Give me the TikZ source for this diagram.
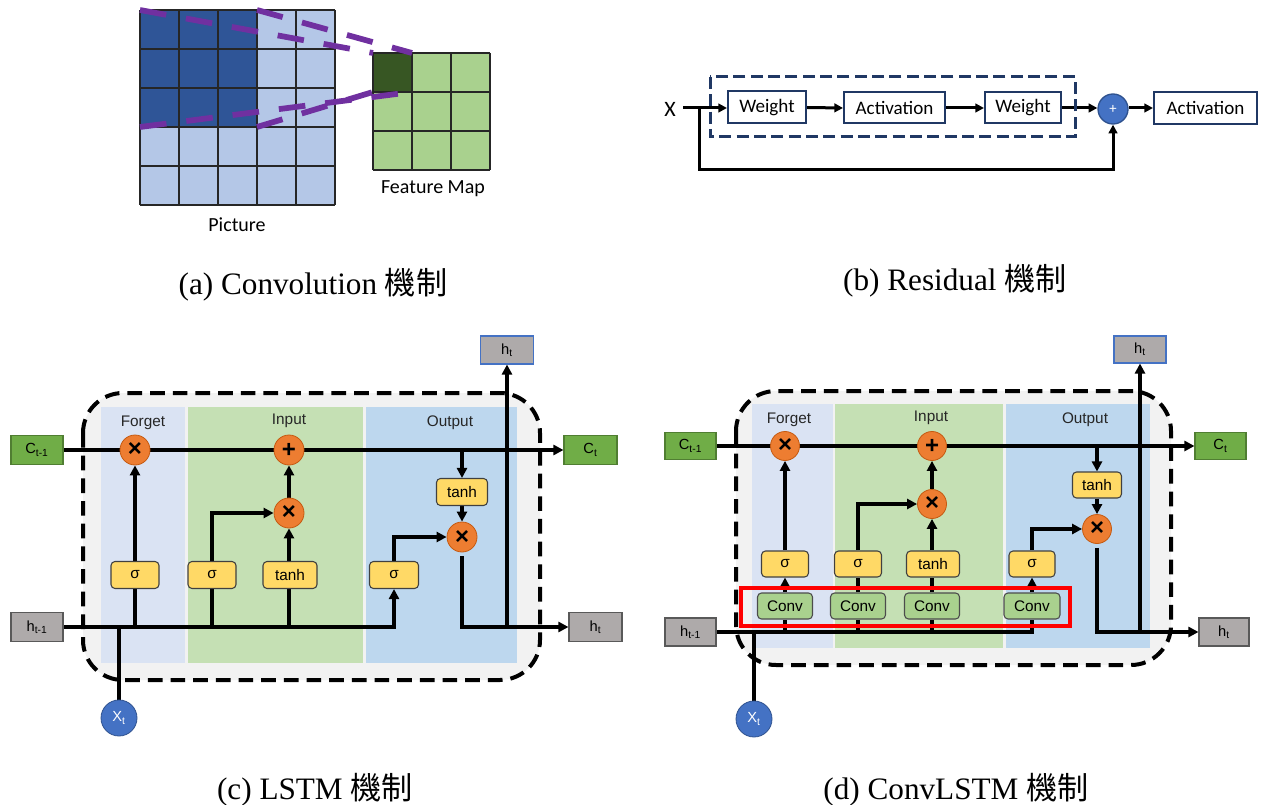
\documentclass[tikz,border=0pt]{standalone}
\usepackage{fontspec}
\setmainfont{Liberation Serif}
\newfontfamily\calfont{Carlito}
\newfontfamily\arialfont{Liberation Sans}
\newfontfamily\cjkfont{Noto Sans CJK TC}
\usetikzlibrary{arrows.meta}

\pgfdeclarelayer{back}
\pgfdeclarelayer{wires}
\pgfsetlayers{back,wires,main}

\definecolor{darkcell}{HTML}{2F5597}
\definecolor{lightcell}{HTML}{B4C7E7}
\definecolor{darkfeat}{HTML}{375623}
\definecolor{lightfeat}{HTML}{A9D18E}
\definecolor{kernelline}{HTML}{7030A0}
\definecolor{navy}{HTML}{203864}
\definecolor{plusblue}{HTML}{4472C4}
\definecolor{plusedge}{HTML}{2F528F}
\definecolor{cellbg}{HTML}{F2F2F2}
\definecolor{forgetbg}{HTML}{DAE3F3}
\definecolor{inputbg}{HTML}{C5E0B4}
\definecolor{outputbg}{HTML}{BDD7EE}
\definecolor{gatefill}{HTML}{FFD966}
\definecolor{opfill}{HTML}{ED7D31}
\definecolor{opedge}{HTML}{C55A11}
\definecolor{cgreen}{HTML}{70AD47}
\definecolor{cgreenedge}{HTML}{507E32}
\definecolor{hgray}{HTML}{AEAAAA}
\definecolor{convfill}{HTML}{A9D18E}

\tikzset{
  wh/.style 2 args={minimum width=#1*0.75pt, minimum height=#2*0.75pt},
  caption/.style={font=\fontsize{23.4}{27}\selectfont, inner sep=0},
  gridline/.style={black!85, line width=1pt},
  kernel/.style={kernelline, line width=4.3pt, dash pattern=on 20pt off 15pt},
  calib/.style={font=\calfont\fontsize{15}{18}\selectfont, inner sep=0},
  blockbox/.style={draw=navy, line width=1.5pt, fill=white, inner sep=0,
    font=\calfont\fontsize{14.3}{16}\selectfont},
  rline/.style={line width=2.25pt},
  rarrow/.style={rline, -{Triangle[length=6.5pt,width=6.5pt]}},
  lbl/.style={font=\arialfont\fontsize{11.5}{13}\selectfont, text=black!85, inner sep=0},
  gate/.style={rounded corners=3pt, draw=black!75, line width=0.8pt, fill=gatefill,
    inner sep=0, font=\arialfont\fontsize{11.5}{13}\selectfont},
  convbox/.style={gate, fill=convfill, draw=black!70},
  op/.style={circle, fill=opfill, draw=opedge, line width=0.6pt, minimum size=30*0.75pt,
    inner sep=0, font=\arialfont\bfseries\fontsize{18}{18}\selectfont},
  state/.style={draw, line width=0.8pt, inner sep=0, font=\arialfont\fontsize{11}{13}\selectfont},
  cstate/.style={state, fill=cgreen, draw=cgreenedge},
  hstate/.style={state, fill=hgray, draw=black!65},
  xin/.style={circle, fill=plusblue, draw=plusedge, line width=0.6pt, minimum size=36*0.75pt,
    inner sep=0, text=white, font=\arialfont\fontsize{11}{13}\selectfont},
  wire/.style={line width=2.7pt},
  warrow/.style={wire, -{Triangle[length=7.5pt,width=7.5pt]}},
  outer/.style={fill=cellbg, draw=black, line width=3pt, dash pattern=on 11pt off 6pt,
    rounded corners=30pt},
}

\begin{document}
\begin{tikzpicture}[x=0.75pt,y=-0.75pt]
\useasboundingbox (0,0) rectangle (1269,805);

% ---------------- (a) convolution ----------------
\fill[lightcell] (140,10) rectangle (335,205);
\fill[darkcell] (140,10) rectangle (257,127);
\foreach \k in {0,...,5} {
  \draw[gridline] ({140+39*\k},10) -- ({140+39*\k},205);
  \draw[gridline] (140,{10+39*\k}) -- (335,{10+39*\k});
}
\fill[lightfeat] (373,53) rectangle (490,170);
\fill[darkfeat] (373,53) rectangle (412,92);
\foreach \k in {0,...,3} {
  \draw[gridline] ({373+39*\k},53) -- ({373+39*\k},170);
  \draw[gridline] (373,{53+39*\k}) -- (490,{53+39*\k});
}
\coordinate (win-tl) at (140,10);
\coordinate (win-tr) at (257,10);
\coordinate (win-bl) at (140,127);
\coordinate (win-br) at (257,127);
\coordinate (out-tl) at (373,53);
\coordinate (out-tr) at (412,53);
\coordinate (out-bl) at (373,92);
\coordinate (out-br) at (412,92);
\draw[kernel] (win-tl) -- (out-tl);
\draw[kernel] (win-tr) -- (out-tr);
\draw[kernel] (win-bl) -- (out-br);
\draw[kernel] (win-br) -- (out-bl);
\node[calib] (piclabel) at (237,225) {Picture};
\node[calib] (fmlabel) at (433,189) {Feature Map};
\node[caption] (capa) at (313,285) {(a) Convolution {\cjkfont 機制}};

% ---------------- (b) residual ----------------
\node[calib, font=\calfont\fontsize{16.5}{18}\selectfont] (rx) at (670,109) {X};
\coordinate (xstart) at (683,108);
\coordinate (split) at (699,108);
\node[blockbox, wh={78}{32}] (w1) at (767,107.5) {Weight};
\node[blockbox, wh={101}{31}] (act1) at (894.5,108) {Activation};
\node[blockbox, wh={76}{31}] (w2) at (1023,108) {Weight};
\node[circle, fill=plusblue, draw=plusedge, line width=1pt, minimum size=30*0.75pt,
  inner sep=0, text=white, font=\calfont\fontsize{11}{12}\selectfont] (sum) at (1113,109) {+};
\node[blockbox, wh={103}{32}] (act2) at (1205.5,108) {Activation};
\draw[navy, line width=2.25pt, dash pattern=on 9pt off 4pt] (710,77) rectangle (1075,137);
\coordinate (loop) at (699,170);
\begin{pgfonlayer}{wires}
  \draw[rarrow] (xstart) -- (xstart -| w1.west);
  \draw[rarrow] (w1.east) -- (act1.west);
  \draw[rarrow] (act1.east) -- (w2.west);
  \draw[rarrow] (w2.east) -- (w2.east -| sum.west);
  \draw[rarrow] (act2.west -| sum.east) -- (act2.west);
  \draw[rarrow] (split) -- (loop) -| (sum.south);
\end{pgfonlayer}
\node[caption] (capb) at (955,281) {(b) Residual {\cjkfont 機制}};

% ---------------- (c) LSTM ----------------
\begin{pgfonlayer}{back}
  \draw[outer] (83,393) rectangle (540,680);
  \fill[forgetbg] (101,407) rectangle (185,663);
  \fill[inputbg] (188,407) rectangle (363,663);
  \fill[outputbg] (366,407) rectangle (517,663);
\end{pgfonlayer}
\node[lbl] (c-lf) at (143,423) {Forget};
\node[lbl] (c-li) at (289,421) {Input};
\node[lbl] (c-lo) at (450,423) {Output};

\node[cstate, wh={52}{29}] (c-cin) at (37,450) {C\textsubscript{t-1}};
\node[hstate, wh={52}{29}] (c-hin) at (37,627) {h\textsubscript{t-1}};
\node[cstate, wh={53}{29}] (c-cout) at (590.5,450) {C\textsubscript{t}};
\node[hstate, wh={53}{29}] (c-hout) at (595.5,627) {h\textsubscript{t}};
\node[hstate, draw=plusblue, wh={53}{28}] (c-htop) at (507,350) {h\textsubscript{t}};

\node[op] (c-fx) at (135,450) {×};
\node[op] (c-ip) at (289,450) {+};
\node[op] (c-ix) at (289,513) {×};
\node[op] (c-ox) at (462,537) {×};

\node[gate, wh={48}{27}] (c-sf) at (135,575) {σ};
\node[gate, wh={48}{27}] (c-si) at (212,575) {σ};
\node[gate, wh={54}{27}] (c-ti) at (290,575) {tanh};
\node[gate, wh={49}{27}] (c-so) at (394,575) {σ};
\node[gate, wh={51}{27}] (c-to) at (462,492) {tanh};

\node[xin] (c-x) at (119,718) {X\textsubscript{t}};

\coordinate (c-hj) at (c-htop.south |- c-hout.west);
\begin{pgfonlayer}{wires}
  \draw[warrow] (c-cin.east) -- (c-cout.west);
  \draw[warrow] (c-hin.east) -| (c-so.south);
  \draw[wire] (c-x.north) -- (c-x.north |- c-hin.east);
  \draw[wire] (c-sf.south) -- (c-sf.south |- c-hin.east);
  \draw[wire] (c-si.south) -- (c-si.south |- c-hin.east);
  \draw[wire] (c-ti.south -| c-ix) -- (c-ix |- c-hin.east);
  \draw[warrow] (c-sf.north) -- (c-fx.south);
  \draw[warrow] (c-si.north) |- (c-ix.west);
  \draw[warrow] (c-ti.north -| c-ix) -- (c-ix.south);
  \draw[warrow] (c-ix.north) -- (c-ip.south);
  \draw[warrow] (c-to.north |- c-cin.east) -- (c-to.north);
  \draw[warrow] (c-to.south) -- (c-ox.north);
  \draw[warrow] (c-so.north) |- (c-ox.west);
  \draw[warrow] ([yshift=-3pt]c-ox.south) |- (c-hout.west);
  \draw[warrow] (c-hj) -- (c-htop.south);
\end{pgfonlayer}
\node[caption] (capc) at (315,790) {(c) LSTM {\cjkfont 機制}};

% ---------------- (d) ConvLSTM ----------------
\begin{pgfonlayer}{back}
  \draw[outer] (736,391) rectangle (1171,665);
  \fill[forgetbg] (752,404) rectangle (833,648);
  \fill[inputbg] (835,404) rectangle (1003,648);
  \fill[outputbg] (1006,404) rectangle (1150,648);
\end{pgfonlayer}
\node[lbl] (d-lf) at (789,420) {Forget};
\node[lbl] (d-li) at (931,418) {Input};
\node[lbl] (d-lo) at (1085,420) {Output};

\node[cstate, wh={51}{27}] (d-cin) at (690.5,446) {C\textsubscript{t-1}};
\node[hstate, wh={51}{28}] (d-hin) at (690.5,632) {h\textsubscript{t-1}};
\node[cstate, wh={51}{27}] (d-cout) at (1220.5,446) {C\textsubscript{t}};
\node[hstate, wh={50}{28}] (d-hout) at (1224,632) {h\textsubscript{t}};
\node[hstate, draw=plusblue, wh={52}{27}] (d-htop) at (1140,349.5) {h\textsubscript{t}};

\node[op, minimum size=29*0.75pt] (d-fx) at (785,446) {×};
\node[op, minimum size=29*0.75pt] (d-ip) at (932,446) {+};
\node[op, minimum size=29*0.75pt] (d-ix) at (932,504) {×};
\node[op, minimum size=29*0.75pt] (d-ox) at (1097,529) {×};

\node[gate, wh={47}{26}] (d-sf) at (785,564) {σ};
\node[gate, wh={47}{26}] (d-si) at (858,564) {σ};
\node[gate, wh={53}{26}] (d-ti) at (933,564) {tanh};
\node[gate, wh={46}{26}] (d-so) at (1032,564) {σ};
\node[gate, wh={49}{26}] (d-to) at (1097,485) {tanh};

\node[convbox, wh={55}{26}] (d-c1) at (785,606) {Conv};
\node[convbox, wh={55}{26}] (d-c2) at (858,606) {Conv};
\node[convbox, wh={55}{26}] (d-c3) at (932,606) {Conv};
\node[convbox, wh={56}{26}] (d-c4) at (1032,606) {Conv};

\node[xin] (d-x) at (754,719) {X\textsubscript{t}};

\draw[red, line width=2.5pt] (741,588) rectangle (1070,626);

\coordinate (d-hj) at (d-htop.south |- d-hout.west);
\begin{pgfonlayer}{wires}
  \draw[warrow, line width=2.4pt] (d-cin.east) -- (d-cout.west);
  \draw[wire, line width=2.4pt] (d-hin.east) -| (d-c4.south);
  \draw[wire, line width=2.4pt] (d-x.north) -- (d-x.north |- d-hin.east);
  \draw[wire, line width=2.4pt] (d-c1.south) -- (d-c1.south |- d-hin.east);
  \draw[wire, line width=2.4pt] (d-c2.south) -- (d-c2.south |- d-hin.east);
  \draw[wire, line width=2.4pt] (d-c3.south) -- (d-c3.south |- d-hin.east);
  \draw[warrow, line width=2.4pt] (d-c1.north) -- (d-sf.south);
  \draw[wire, line width=2.4pt] (d-c2.north) -- (d-si.south);
  \draw[wire, line width=2.4pt] (d-c3.north) -- (d-c3.north |- d-ti.south);
  \draw[warrow, line width=2.4pt] (d-c4.north) -- (d-so.south);
  \draw[warrow, line width=2.4pt] (d-sf.north) -- (d-fx.south);
  \draw[warrow, line width=2.4pt] (d-si.north) |- (d-ix.west);
  \draw[warrow, line width=2.4pt] (d-ti.north -| d-ix) -- (d-ix.south);
  \draw[warrow, line width=2.4pt] (d-ix.north) -- (d-ip.south);
  \draw[warrow, line width=2.4pt] (d-to.north |- d-cin.east) -- (d-to.north);
  \draw[warrow, line width=2.4pt] (d-to.south) -- (d-ox.north);
  \draw[warrow, line width=2.4pt] (d-so.north) |- (d-ox.west);
  \draw[warrow, line width=2.4pt] ([yshift=-3pt]d-ox.south) |- (d-hout.west);
  \draw[warrow, line width=2.4pt] (d-hj) -- (d-htop.south);
\end{pgfonlayer}
\node[caption] (capd) at (956,790) {(d) ConvLSTM {\cjkfont 機制}};
\end{tikzpicture}
\end{document}
